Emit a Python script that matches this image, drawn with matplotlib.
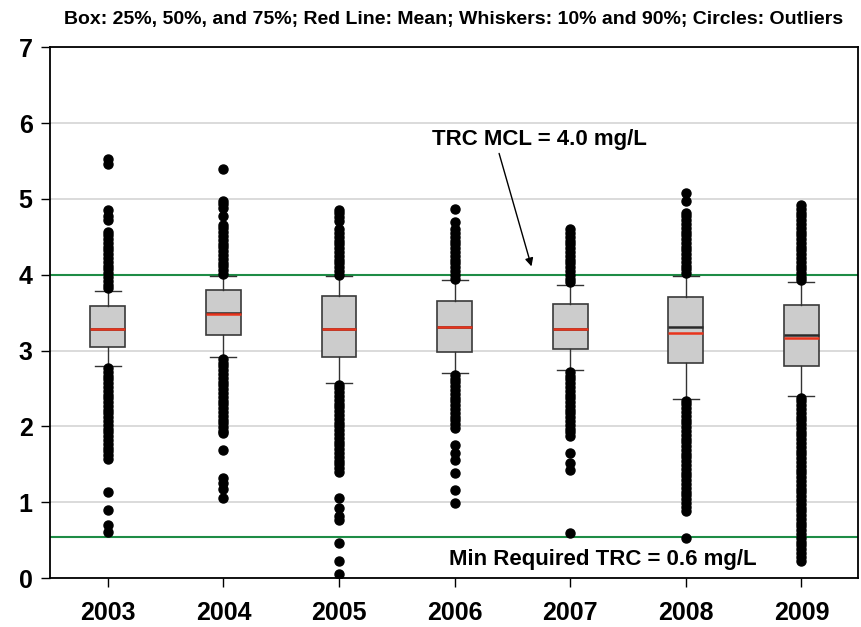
import numpy as np
import matplotlib.pyplot as plt

plt.rcParams["font.family"] = ["Liberation Sans", "DejaVu Sans"]
plt.rcParams["font.weight"] = "bold"

years = ["2003", "2004", "2005", "2006", "2007", "2008", "2009"]

# box stats (mg/L)
q1 = [3.05, 3.20, 2.92, 2.98, 3.02, 2.84, 2.79]
median = [3.29, 3.50, 3.29, 3.31, 3.29, 3.31, 3.21]
q3 = [3.59, 3.80, 3.72, 3.65, 3.61, 3.70, 3.60]
mean = [3.29, 3.48, 3.29, 3.31, 3.29, 3.23, 3.16]
p10 = [2.79, 2.91, 2.57, 2.70, 2.74, 2.36, 2.40]
p90 = [3.78, 3.99, 3.98, 3.93, 3.86, 3.98, 3.91]

fliers_2003 = [5.52, 5.46, 4.86, 4.78, 4.72, 4.57, 4.52, 4.47, 4.42, 4.37, 4.32, 4.27, 4.22,
               4.17, 4.12, 4.07, 4.02, 3.97, 3.92, 3.87, 3.82,
               2.77, 2.72, 2.67, 2.62, 2.57, 2.52, 2.47, 2.42, 2.37, 2.32, 2.27, 2.22, 2.17,
               2.12, 2.07, 2.02, 1.97, 1.92, 1.87, 1.82, 1.77, 1.72, 1.67, 1.62, 1.57,
               1.14, 0.90, 0.70, 0.61]
fliers_2004 = [5.40, 4.97, 4.93, 4.88, 4.77, 4.66, 4.61, 4.56, 4.51, 4.46, 4.41, 4.36, 4.31,
               4.26, 4.21, 4.16, 4.11, 4.06, 4.01,
               2.89, 2.84, 2.79, 2.74, 2.69, 2.64, 2.59, 2.54, 2.49, 2.44, 2.39, 2.34, 2.29,
               2.24, 2.19, 2.14, 2.09, 2.04, 1.99, 1.94, 1.91,
               1.69, 1.32, 1.25, 1.18, 1.06]
fliers_2005 = [4.86, 4.81, 4.76, 4.71, 4.60, 4.55, 4.50, 4.45, 4.40, 4.35, 4.30, 4.25, 4.20,
               4.15, 4.10, 4.05, 4.00,
               2.55, 2.50, 2.45, 2.40, 2.35, 2.30, 2.25, 2.20, 2.15, 2.10, 2.05, 2.00, 1.95,
               1.90, 1.85, 1.80, 1.75, 1.70, 1.65, 1.60, 1.55, 1.50, 1.45, 1.40,
               1.05, 0.92, 0.82, 0.76, 0.46, 0.22, 0.05]
fliers_2006 = [4.87, 4.69, 4.60, 4.55, 4.50, 4.45, 4.40, 4.35, 4.30, 4.25, 4.20, 4.15, 4.10,
               4.05, 4.00, 3.95,
               2.68, 2.63, 2.58, 2.53, 2.48, 2.43, 2.38, 2.33, 2.28, 2.23, 2.18, 2.13, 2.08,
               2.03, 1.98, 1.76, 1.65, 1.56, 1.39, 1.16, 0.99]
fliers_2007 = [4.60, 4.55, 4.50, 4.45, 4.40, 4.35, 4.30, 4.25, 4.20, 4.15, 4.10, 4.05, 4.00,
               3.95, 3.90,
               2.72, 2.67, 2.62, 2.57, 2.52, 2.47, 2.42, 2.37, 2.32, 2.27, 2.22, 2.17, 2.12,
               2.07, 2.02, 1.97, 1.92, 1.87, 1.65, 1.52, 1.43, 0.59]
fliers_2008 = [5.08, 4.97, 4.82, 4.77, 4.72, 4.67, 4.62, 4.57, 4.52, 4.47, 4.42, 4.37, 4.32,
               4.27, 4.22, 4.17, 4.12, 4.07, 4.02,
               2.34, 2.29, 2.24, 2.19, 2.14, 2.09, 2.04, 1.99, 1.94, 1.89, 1.84, 1.79, 1.74,
               1.69, 1.64, 1.59, 1.54, 1.49, 1.44, 1.39, 1.34, 1.29, 1.24, 1.19, 1.14, 1.09,
               1.04, 0.99, 0.94, 0.88, 0.53]
fliers_2009 = [4.92, 4.87, 4.82, 4.77, 4.72, 4.67, 4.62, 4.57, 4.52, 4.47, 4.42, 4.37, 4.32,
               4.27, 4.22, 4.17, 4.12, 4.07, 4.02, 3.97, 3.93,
               2.38, 2.33, 2.28, 2.23, 2.18, 2.13, 2.08, 2.03, 1.98, 1.93, 1.88, 1.83, 1.78,
               1.73, 1.68, 1.63, 1.58, 1.53, 1.48, 1.43, 1.38, 1.33, 1.28, 1.23, 1.18, 1.13,
               1.08, 1.03, 0.98, 0.93, 0.88, 0.83, 0.78, 0.73, 0.68, 0.63, 0.58, 0.53, 0.48,
               0.43, 0.38, 0.33, 0.28, 0.23]
fliers = [fliers_2003, fliers_2004, fliers_2005, fliers_2006, fliers_2007, fliers_2008, fliers_2009]

mcl = 4.0
min_trc = 0.54

stats = []
for i in range(len(years)):
    stats.append(dict(label=years[i], q1=q1[i], med=median[i], q3=q3[i], mean=mean[i],
                      whislo=p10[i], whishi=p90[i], fliers=fliers[i]))

fig = plt.figure(figsize=(8.62, 6.27), dpi=100)
ax = fig.add_axes([0.058, 0.0781, 0.9374, 0.8465])

ax.bxp(stats, widths=0.30, patch_artist=True, showmeans=True, meanline=True,
       boxprops=dict(facecolor="#cccccc", edgecolor="#3a3a3a", linewidth=1.2),
       medianprops=dict(color="#2a2a2a", linewidth=1.8),
       meanprops=dict(color="#e8341c", linewidth=1.8, linestyle="-"),
       whiskerprops=dict(color="#333333", linewidth=1.0),
       capprops=dict(color="#333333", linewidth=1.0),
       capwidths=0.225,
       flierprops=dict(marker="o", markerfacecolor="black", markeredgecolor="black",
                       markersize=6.5))

ax.axhline(mcl, color="#1e8c46", lw=1.5, zorder=1)
ax.axhline(min_trc, color="#1e8c46", lw=1.5, zorder=1)

ax.set_xlim(0.5, 7.49)
ax.set_ylim(0, 7)
ax.set_yticks(range(0, 8))
ax.yaxis.grid(True, color="#d4d4d4", lw=1.2)
ax.set_axisbelow(True)

for s in ax.spines.values():
    s.set_linewidth(1.3)
ax.tick_params(axis="both", direction="out", length=6.5, width=1.0, labelsize=18)
ax.tick_params(axis="x", pad=10)
ax.tick_params(axis="y", pad=6)
ax.tick_params(top=False, right=False)

ax.set_title("Box: 25%, 50%, and 75%; Red Line: Mean; Whiskers: 10% and 90%; Circles: Outliers",
             fontsize=14, fontweight="bold", pad=17)

ax.text(4.73, 5.78, "TRC MCL = 4.0 mg/L", ha="center", va="center",
        fontsize=16, fontweight="bold")
ax.annotate("", xy=(4.665, 4.11), xytext=(4.385, 5.60),
            arrowprops=dict(arrowstyle="-|>", color="black", lw=1.0,
                            shrinkA=0, shrinkB=0, mutation_scale=12))
ax.text(5.28, 0.24, "Min Required TRC = 0.6 mg/L", ha="center", va="center",
        fontsize=16, fontweight="bold")

fig.savefig("out.png", dpi=100)
